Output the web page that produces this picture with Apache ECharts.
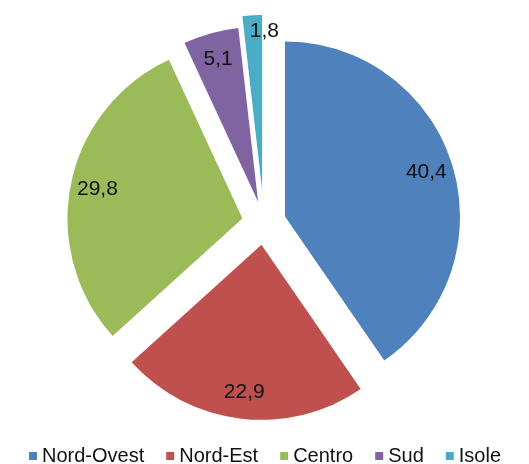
<!DOCTYPE html>
<html>
<head>
<meta charset="utf-8">
<script src="https://cdn.jsdelivr.net/npm/echarts@6/dist/echarts.min.js"></script>
<style>
  html, body { margin: 0; padding: 0; background: #fff; }
  #chart { width: 529px; height: 464px; }
</style>
</head>
<body>
<div id="chart"></div>
<script>
// Ripartizione percentuale per area geografica
const categories = ['Nord-Ovest', 'Nord-Est', 'Centro', 'Sud', 'Isole'];
const values = [40.4, 22.9, 29.8, 5.1, 1.8];
const colors = ['#4F81BD', '#C0504D', '#9BBB59', '#8064A2', '#4BACC6'];

const FONT = '"Liberation Sans", Arial, sans-serif';
const CENTER = [264, 223];
const RADIUS = 175;
const EXPLODE = 22;        // distance every slice is pulled out
const EXPLODE_FAR = 33;    // the last, thinnest slice is pulled out further
const FAR_SLICE = 'Isole';

const transparent = 'rgba(0,0,0,0)';

// Main slices (the far one is drawn by its own ring below)
const sliceData = categories.map((name, i) => ({
  name,
  value: values[i],
  selected: true,
  itemStyle: { color: name === FAR_SLICE ? transparent : colors[i] }
}));

// Same angles, only the far slice visible
const farData = categories.map((name, i) => ({
  name,
  value: values[i],
  selected: true,
  itemStyle: { color: name === FAR_SLICE ? colors[i] : transparent }
}));

// Transparent companion ring that carries the value labels further out
const labelData = categories.map((name, i) => ({ name, value: values[i], selected: true }));

const baseSeries = {
  type: 'pie',
  center: CENTER,
  startAngle: 90,
  clockwise: true,
  selectedMode: 'multiple',
  avoidLabelOverlap: false,
  emphasis: { disabled: true },
  labelLine: { show: false }
};

const chart = echarts.init(document.getElementById('chart'), null, { renderer: 'canvas' });
chart.setOption({
  animation: false,
  backgroundColor: '#ffffff',
  legend: {
    left: 24,
    top: 441,
    icon: 'rect',
    itemWidth: 8,
    itemHeight: 8,
    itemGap: 22,
    itemTextGap: 9,
    selectedMode: false,
    textStyle: { fontFamily: FONT, fontSize: 20, color: '#111' },
    data: categories.map((name, i) => ({ name, itemStyle: { color: colors[i] } }))
  },
  series: [
    Object.assign({}, baseSeries, {
      radius: [0, RADIUS],
      selectedOffset: EXPLODE,
      label: { show: false },
      itemStyle: { borderWidth: 0 },
      select: { itemStyle: { borderWidth: 0 } },
      data: sliceData
    }),
    Object.assign({}, baseSeries, {
      radius: [0, RADIUS],
      selectedOffset: EXPLODE_FAR,
      silent: true,
      label: { show: false },
      itemStyle: { borderWidth: 0 },
      select: { itemStyle: { borderWidth: 0 } },
      data: farData
    }),
    Object.assign({}, baseSeries, {
      radius: [110, 180],
      selectedOffset: EXPLODE,
      silent: true,
      itemStyle: { color: transparent, borderWidth: 0 },
      select: { itemStyle: { color: transparent, borderWidth: 0 } },
      label: {
        show: true,
        position: 'inside',
        fontFamily: FONT,
        fontSize: 21,
        color: '#111',
        formatter: p => String(p.value).replace('.', ',')
      },
      // the thin last slice keeps its label up at the rim
      labelLayout: p => (categories[p.dataIndex] === FAR_SLICE ? { dx: 10, dy: -22 } : {}),
      data: labelData
    })
  ]
});
</script>
</body>
</html>
